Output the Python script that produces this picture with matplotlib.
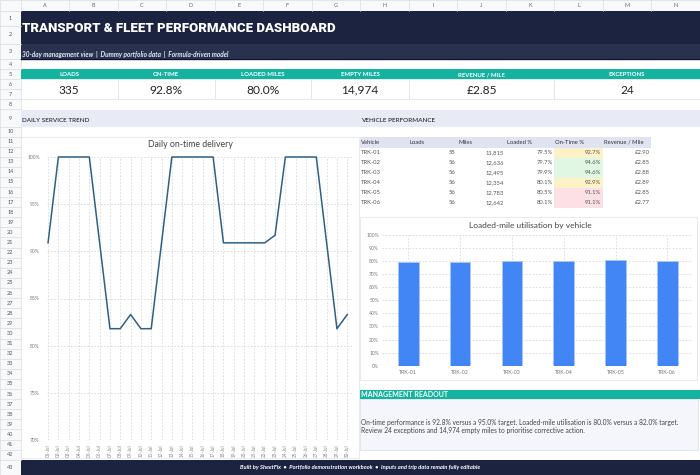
import matplotlib
matplotlib.use("Agg")
import matplotlib.pyplot as plt
from matplotlib.patches import Rectangle
from matplotlib.ticker import PercentFormatter

plt.rcParams['font.family'] = ['Lato', 'DejaVu Sans']

# ---- data ----
kpi_labels = ["LOADS", "ON-TIME", "LOADED MILES", "EMPTY MILES", "REVENUE / MILE", "EXCEPTIONS"]
kpi_values = ["335", "92.8%", "80.0%", "14,974", "£2.85", "24"]

days = [f"{d:02d}-Jul" for d in range(1, 31)]
on_time_daily = [90.9, 100, 100, 100, 100, 90.9, 81.8, 81.8, 83.3, 81.8,
                 81.8, 90.9, 100, 100, 100, 100, 100, 90.9, 90.9, 90.9,
                 90.9, 90.9, 91.7, 100, 100, 100, 100, 90.9, 81.8, 83.3]

vehicles = ["TRK-01", "TRK-02", "TRK-03", "TRK-04", "TRK-05", "TRK-06"]
loads = [55, 56, 56, 56, 56, 56]
miles = [11815, 12636, 12495, 12354, 12783, 12642]
loaded_pct = [79.5, 79.7, 79.9, 80.1, 80.5, 80.1]
on_time_pct = [92.7, 94.6, 94.6, 92.9, 91.1, 91.1]
rev_mile = [2.90, 2.85, 2.88, 2.89, 2.85, 2.77]
table_headers = ["Vehicle", "Loads", "Miles", "Loaded %", "On-Time %", "Revenue / Mile"]

readout = ["On-time performance is 92.8% versus a 95.0% target. Loaded-mile utilisation is 80.0% versus a 82.0% target.",
           "Review 24 exceptions and 14,974 empty miles to prioritise corrective action."]

W, H = 700, 475
fig = plt.figure(figsize=(7, 4.75), dpi=100)
bg = fig.add_axes([0, 0, 1, 1])
bg.set_xlim(0, W)
bg.set_ylim(H, 0)
bg.axis('off')


def box(x0, y0, x1, y1, fc, ec='none', lw=0.6, z=1):
    bg.add_patch(Rectangle((x0, y0), x1 - x0, y1 - y0, facecolor=fc, edgecolor=ec, lw=lw, zorder=z))


def txt(x, y, s, size=4.5, color='#333333', ha='left', **kw):
    bg.text(x, y, s, fontsize=size, color=color, ha=ha, va='center', zorder=5, **kw)


def rect(x0, y0, x1, y1):
    return [x0 / W, 1 - y1 / H, (x1 - x0) / W, (y1 - y0) / H]


# spreadsheet frame: column / row headers
col0, colw = 20.7, 48.5
box(0, 0, W, 10.5, '#f8f9fa', '#dadce0', 0.5)
for i, c in enumerate("ABCDEFGHIJKLMN"):
    x = col0 + i * colw
    bg.plot([x, x], [0, 10.5], color='#dadce0', lw=0.5, zorder=2)
    txt(x + colw / 2, 5.5, c, 4, '#666666', 'center')

row_edges = [10.5, 26, 44, 59, 69, 79, 89, 99, 109, 127, 136.5]
while len(row_edges) < 43:
    row_edges.append(row_edges[-1] + 10.1)
row_edges.append(H)
box(0, 10.5, col0, H, '#f8f9fa', '#dadce0', 0.5)
for r in range(43):
    y0, y1 = row_edges[r], row_edges[r + 1]
    bg.plot([0, col0], [y1, y1], color='#dadce0', lw=0.5, zorder=2)
    txt(col0 / 2, (y0 + y1) / 2, str(r + 1), 4, '#555555', 'center')

# title band
box(col0, 10.5, W, 44, '#1b2340')
box(col0, 44, W, 58.5, '#28324f')
bg.plot([col0, W], [58.7, 58.7], color='#0f1530', lw=1.0, zorder=2)
txt(21.5, 28.5, "TRANSPORT & FLEET PERFORMANCE DASHBOARD", 9.5, 'white',
    family=['Roboto', 'DejaVu Sans'], weight='black')
txt(21.5, 54, "30-day management view  |  Dummy portfolio data  |  Formula-driven model",
    4.7, '#e4e7f2', style='italic', weight='bold')

# KPI strip
teal = '#13b3a0'
box(col0, 69.3, W, 79.3, teal)
box(col0, 79.3, W, 99, 'white', '#e1e5ec', 0.6)
kpi_edges = [col0, 117.7, 214.7, 311.2, 408.7, 554.3, W]
for i, (lab, val) in enumerate(zip(kpi_labels, kpi_values)):
    cx = (kpi_edges[i] + kpi_edges[i + 1]) / 2
    txt(cx, 74.6, lab, 4.3, 'white', 'center', weight='bold')
    txt(cx, 90, val, 8.6, '#222222', 'center')
    if i > 0:
        bg.plot([kpi_edges[i]] * 2, [79.3, 99], color='#e1e5ec', lw=0.7, zorder=2)

# section bands
box(col0, 110, W, 126.7, '#e8ebf6')
txt(21.7, 121, "DAILY SERVICE TREND", 4.6, '#333333', weight='semibold')
txt(361, 121, "VEHICLE PERFORMANCE", 4.6, '#333333', weight='semibold')

# chart frames
box(21, 136.5, 358.5, 458, 'white', '#e6e6e6', 0.6)
box(360, 217, 697, 380, 'white', '#e6e6e6', 0.6)
txt(190, 144.5, "Daily on-time delivery", 6.3, '#444444', 'center')
txt(530, 225.7, "Loaded-mile utilisation by vehicle", 6.0, '#444444', 'center')

# vehicle table
tcol = [col0 + k * colw for k in range(7, 14)]
box(tcol[0], 137, tcol[6], 147.5, '#dfe3f2')
for j, h in enumerate(table_headers):
    txt(tcol[j] + 1, 142.5, h, 4.2, '#333333')
ot_colors = {92.7: '#fdf1c7', 92.9: '#fdf1c7', 94.6: '#dff7e3', 91.1: '#fde0e5'}
for i, v in enumerate(vehicles):
    yc = 152.6 + i * 10.0
    box(tcol[4], yc - 5, tcol[5], yc + 5, ot_colors[on_time_pct[i]])
    cells = [f"{loads[i]}", f"{miles[i]:,}", f"{loaded_pct[i]:.1f}%",
             f"{on_time_pct[i]:.1f}%", f"£{rev_mile[i]:.2f}"]
    txt(tcol[0] + 1, yc, v, 4.2, '#555555')
    for j, s in enumerate(cells):
        txt(tcol[j + 2] - 1.5, yc, s, 4.2, '#555555', 'right')

# management readout
box(360, 390, W, 398.7, teal)
txt(361, 394.5, "MANAGEMENT READOUT", 5.0, 'white', weight='bold')
box(360, 398.7, 698, 449.5, '#f5f6fb', '#dde1ea', 0.6)
txt(361, 422.3, readout[0], 4.75, '#444444')
txt(361, 430.8, readout[1], 4.75, '#444444')

# footer
box(col0, 460, W, H, '#1b2340')
txt(360, 467.5, "Built by SheetFix  \u2022  Portfolio demonstration workbook  \u2022  Inputs and trip data remain fully editable",
    4.15, 'white', 'center', style='italic', weight='bold')

grid_kw = dict(color='#d9d9d9', lw=0.6, ls=(0, (2, 2)))

# line chart
ax1 = fig.add_axes(rect(46.7, 157, 351.7, 440))
ax1.plot(range(len(days)), on_time_daily, color='#2f5f88', lw=1.1, clip_on=False, zorder=3)
ax1.set_xlim(-0.13, 29.43)
ax1.set_ylim(70, 100)
ax1.set_yticks([70, 75, 80, 85, 90, 95, 100])
ax1.yaxis.set_major_formatter(PercentFormatter(decimals=0))
ax1.set_xticks(range(len(days)))
ax1.set_xticklabels(days, rotation=90)
ax1.tick_params(axis='y', length=0, pad=5, labelsize=3.6, labelcolor='#777777')
ax1.tick_params(axis='x', length=0, pad=3, labelsize=3.3, labelcolor='#888888')
ax1.grid(True, **grid_kw)
ax1.set_axisbelow(True)
for s in ax1.spines.values():
    s.set_visible(False)
ax1.patch.set_alpha(0)

# bar chart
ax2 = fig.add_axes(rect(382.4, 235, 693.2, 365.7))
ax2.bar(range(len(vehicles)), loaded_pct, width=0.4, color='#4285f4',
        edgecolor='#a9c6fb', lw=0.6, zorder=3)
ax2.set_xlim(-0.5, 5.5)
ax2.set_ylim(0, 100)
ax2.set_yticks(range(0, 101, 10))
ax2.yaxis.set_major_formatter(PercentFormatter(decimals=0))
ax2.set_xticks(range(len(vehicles)))
ax2.set_xticklabels(vehicles)
ax2.tick_params(axis='y', length=0, pad=2.5, labelsize=3.6, labelcolor='#777777')
ax2.tick_params(axis='x', length=0, pad=3, labelsize=3.8, labelcolor='#777777')
ax2.grid(True, **grid_kw)
ax2.set_axisbelow(True)
for s in ax2.spines.values():
    s.set_visible(False)
ax2.patch.set_alpha(0)

fig.savefig("out.png", dpi=100)
